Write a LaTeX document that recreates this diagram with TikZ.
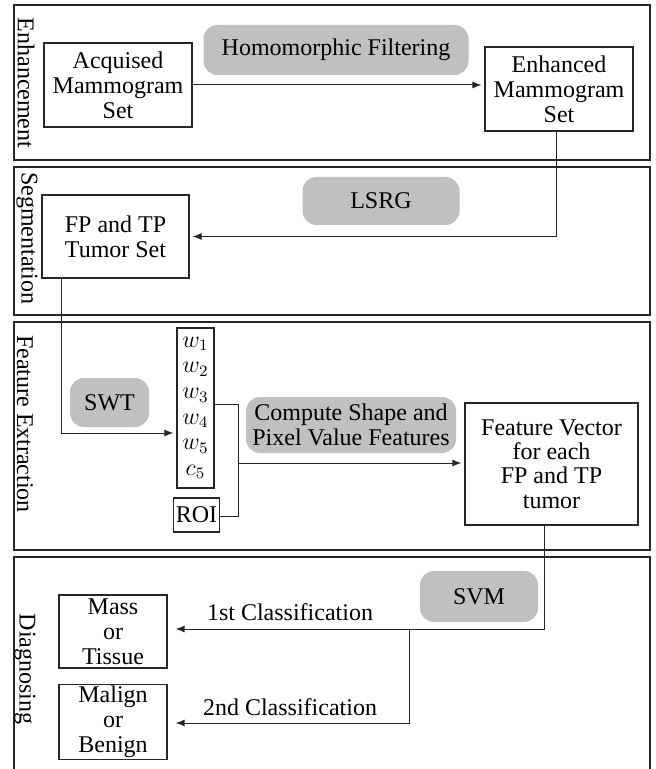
\documentclass[tikz,border=0pt]{standalone}
\usepackage{fontspec}
\setmainfont{Liberation Serif}
\usetikzlibrary{arrows.meta}
\definecolor{pillgray}{RGB}{192,192,192}
\begin{document}
\begin{tikzpicture}[x=0.5pt,y=-0.5pt,
  font=\fontsize{12}{12.4}\selectfont,
  panel/.style={draw=black!85,line width=0.8pt},
  box/.style={draw=black!85,line width=0.6pt,fill=white,align=center,inner sep=1pt},
  pill/.style={fill=pillgray,rounded corners=7pt,align=center,inner sep=1pt},
  conn/.style={draw=black!85,line width=0.5pt},
  arr/.style={conn,-{Latex[length=4.5pt,width=3.5pt]},shorten >=1.5pt},
  sidelabel/.style={rotate=-90,inner sep=0pt}]
\useasboundingbox (0,0) rectangle (656,769);
\fill[white] (0,0) rectangle (656,769);
% panels
\draw[panel] (14,5) rectangle (650,160);
\draw[panel] (14,167) rectangle (650,315);
\draw[panel] (14,322) rectangle (650,550);
\draw[panel] (14,775) -- (14,557) -- (650,557) -- (650,775);
% side labels
\node[sidelabel] (lab1) at (26,83) {Enhancement};
\node[sidelabel] (lab2) at (27,238) {Segmentation};
\node[sidelabel] (lab3) at (25,424) {Feature Extraction};
\node[sidelabel] (lab4) at (25,669) {Diagnosing};
% Enhancement
\node[box,minimum width=74pt,minimum height=42pt] (acq) at (118,85) {Acquised\\Mammogram\\Set};
\node[box,minimum width=74pt,minimum height=42pt] (enh) at (559,89) {Enhanced\\Mammogram\\Set};
\node[pill,minimum width=132.5pt,minimum height=25pt] (homo) at (336,50) {Homomorphic Filtering};
\draw[arr] (acq.east) -- (acq.east -| enh.west);
% Segmentation
\node[box,minimum width=73.5pt,minimum height=41.5pt] (fptp) at (115.5,236.5) {FP and TP\\Tumor Set};
\node[pill,minimum width=78.5pt,minimum height=24pt] (lsrg) at (381,201) {LSRG};
\draw[arr] (enh.south -| 556,0) |- (fptp.east);
% Feature extraction
\node[box,minimum width=18.5pt,minimum height=80pt,font=\fontsize{12}{12.8}\selectfont] (wbox) at (195.5,408)
  {$w_1$\\$w_2$\\$w_3$\\$w_4$\\$w_5$\\$c_5$};
\node[box,minimum width=21.5pt,minimum height=17pt] (roi) at (196.5,515) {ROI};
\node[pill,minimum width=39.5pt,minimum height=24.5pt] (swt) at (109.5,402.5) {SWT};
\node[pill,minimum width=105pt,minimum height=28pt] (comp) at (351,425) {Compute Shape and\\Pixel Value Features};
\node[box,minimum width=86.5pt,minimum height=61pt,font=\fontsize{12}{12.2}\selectfont] (fv) at (551.5,464)
  {Feature Vector\\for each\\FP and TP\\tumor};
\coordinate (j1) at (238,404);
\coordinate (j2) at (238,516);
\coordinate (j3) at (238,463);
\coordinate (k1) at (61,433);
\draw[arr] (fptp.south -| k1) -- (k1) -- (k1 -| wbox.west);
\draw[conn] (wbox.east |- j1) -- (j1) -- (j2) -- (j2 -| roi.east);
\draw[arr] (j3) -- (j3 -| fv.west);
% Diagnosing
\node[box,minimum width=54pt,minimum height=36.5pt] (mass) at (113,631.5) {Mass\\or\\Tissue};
\node[box,minimum width=54pt,minimum height=36pt] (mal) at (113,722) {Malign\\or\\Benign};
\node[pill,minimum width=59pt,minimum height=25.5pt] (svm) at (479,596.5) {SVM};
\coordinate (d1) at (544,629);
\coordinate (d2) at (409,629);
\coordinate (d3) at (409,723);
\draw[arr,shorten >=4pt] (fv.south -| d1) -- (d1) -- (d1 -| mass.east);
\draw[arr,shorten >=4pt] (d2) -- (d3) -- (d3 -| mal.east);
\node (c1) at (290,612) {1st Classification};
\node (c2) at (290,707) {2nd Classification};
\end{tikzpicture}
\end{document}
